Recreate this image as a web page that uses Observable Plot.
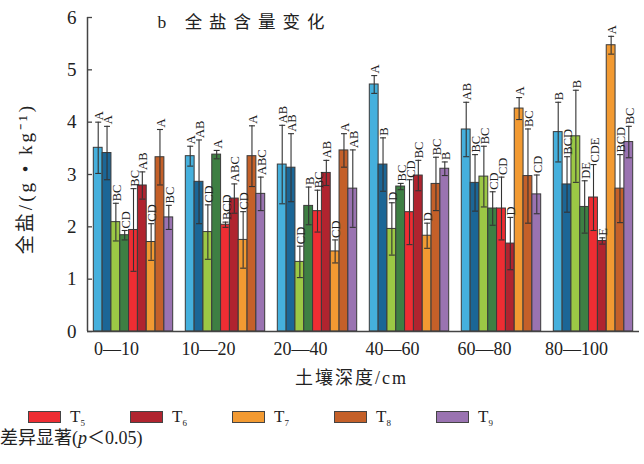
<!DOCTYPE html>
<html>
<head>
<meta charset="utf-8">
<script src="https://cdn.jsdelivr.net/npm/d3@7"></script>
<script src="https://cdn.jsdelivr.net/npm/@observablehq/plot@0.6"></script>
<style>
  html, body { margin: 0; padding: 0; background: #fff; }
  #wrap { position: relative; width: 644px; height: 464px; overflow: hidden; background: #fff;
          font-family: 'Liberation Serif', 'Noto Sans CJK SC', serif; color: #222; }
  #chart { position: absolute; left: 0; top: 0; }
  #legend { position: absolute; top: 404px; left: 28px; display: flex; white-space: nowrap; }
  .item { display: flex; align-items: center; width: 102px; height: 26px; font-size: 17px; }
  .sw { width: 31px; height: 10px; border: 1px solid #444; margin-right: 9px; }
  .item sub { font-size: 9px; vertical-align: -4px; }
  #caption { position: absolute; left: 0; top: 428px; font-size: 18px; line-height: 20px; white-space: nowrap; }
</style>
</head>
<body>
<div id="wrap">
  <div id="chart"></div>
  <div id="legend"></div>
  <div id="caption">差异显著(<i>p</i>＜0.05)</div>
</div>
<script>
// ---- data ----
const depths = ["0—10", "10—20", "20—40", "40—60", "60—80", "80—100"];
const treatments = ["T1", "T2", "T3", "T4", "T5", "T6", "T7", "T8", "T9"];
const colors = ["#45b0dd", "#1b6696", "#9cc845", "#3e7f43", "#ee2d33", "#b0242f", "#f29a32", "#c46029", "#9a73b1"];
// legend entries that are visible in the reference (T1–T4 lie outside the picture)
const legendShown = ["T5", "T6", "T7", "T8", "T9"];
const yTicks = [0, 1, 2, 3, 4, 5, 6];

const mean0_10 = [3.51, 3.41, 2.09, 1.84, 1.94, 2.79, 1.71, 3.33, 2.18];
const sd0_10 = [0.49, 0.51, 0.36, 0.09, 0.79, 0.26, 0.35, 0.53, 0.23];
const sig0_10 = ["A", "A", "BC", "CD", "BC", "AB", "CD", "A", "BC"];

const mean10_20 = [3.35, 2.86, 1.90, 3.38, 2.04, 2.54, 1.75, 3.35, 2.63];
const sd10_20 = [0.19, 0.80, 0.52, 0.08, 0.05, 0.28, 0.54, 0.58, 0.32];
const sig10_20 = ["A", "AB", "CD", "A", "BCD", "ABC", "CD", "A", "ABC"];

const mean20_40 = [3.19, 3.13, 1.33, 2.40, 2.30, 3.03, 1.53, 3.46, 2.73];
const sd20_40 = [0.75, 0.65, 0.30, 0.36, 0.40, 0.24, 0.22, 0.32, 0.74];
const sig20_40 = ["AB", "AB", "CD", "B", "BC", "AB", "CD", "A", "AB"];

const mean40_60 = [4.72, 3.19, 1.96, 2.77, 2.28, 2.98, 1.83, 2.82, 3.11];
const sd40_60 = [0.17, 0.51, 0.50, 0.06, 0.62, 0.29, 0.24, 0.51, 0.13];
const sig40_60 = ["A", "B", "D", "BC", "CD", "BC", "D", "BC", "B"];

const mean60_80 = [3.86, 2.84, 2.96, 2.35, 2.35, 1.68, 4.26, 2.97, 2.62];
const sd60_80 = [0.52, 0.54, 0.58, 0.32, 0.60, 0.50, 0.21, 0.90, 0.37];
const sig60_80 = ["AB", "BC", "BC", "CD", "CD", "D", "A", "BC", "CD"];

const mean80_100 = [3.81, 2.81, 3.73, 2.38, 2.56, 1.73, 5.47, 2.73, 3.62];
const sd80_100 = [0.57, 0.53, 0.88, 0.50, 0.63, 0.06, 0.17, 0.65, 0.30];
const sig80_100 = ["B", "BCD", "B", "DE", "CDE", "E", "A", "BCD", "BC"];

const titleText = "b 全盐含量变化";
const yTitle = "全盐/(g • kg⁻¹)";
const xTitle = "土壤深度/cm";

// ---- table built from the arrays ----
const means = [mean0_10, mean10_20, mean20_40, mean40_60, mean60_80, mean80_100];
const sds = [sd0_10, sd10_20, sd20_40, sd40_60, sd60_80, sd80_100];
const sigs = [sig0_10, sig10_20, sig20_40, sig40_60, sig60_80, sig80_100];

const groupFrac = 0.863;                 // share of each depth slot covered by bars
const bw = groupFrac / treatments.length; // bar width in slot units
const rows = [];
depths.forEach((d, g) => {
  treatments.forEach((t, i) => {
    const cx = g + (i - (treatments.length - 1) / 2) * bw;
    rows.push({
      depth: d, treatment: t,
      cx, x1: cx - bw / 2, x2: cx + bw / 2,
      mean: means[g][i], lo: means[g][i] - sds[g][i], hi: means[g][i] + sds[g][i],
      sig: sigs[g][i]
    });
  });
});

const xDomain = [-0.5, depths.length - 0.5];
const capSymbol = {
  draw(context, size) {
    const r = Math.sqrt(size / Math.PI);
    context.moveTo(-r, 0);
    context.lineTo(r, 0);
  }
};

const chart = Plot.plot({
  width: 644,
  height: 400,
  marginLeft: 87,
  marginRight: 5,
  marginTop: 17,
  marginBottom: 69,
  x: { domain: xDomain, axis: null },
  y: { domain: [0, 6], axis: null },
  color: { domain: treatments, range: colors },
  style: { fontFamily: "'Liberation Serif', 'Noto Sans CJK SC', serif", fontSize: "18px", color: "#222", background: "#fff", overflow: "visible" },
  marks: [
    Plot.rect(rows, { x1: "x1", x2: "x2", y1: 0, y2: "mean", fill: "treatment", stroke: "#3a3a3a", strokeWidth: 1 }),
    Plot.ruleX(rows, { x: "cx", y1: "lo", y2: "hi", stroke: "#333", strokeWidth: 1.1 }),
    Plot.dot(rows, { x: "cx", y: "hi", symbol: capSymbol, r: 3, stroke: "#333", strokeWidth: 1.1, fill: "none" }),
    Plot.dot(rows, { x: "cx", y: "lo", symbol: capSymbol, r: 3, stroke: "#333", strokeWidth: 1.1, fill: "none" }),
    Plot.text(rows, { x: "cx", y: "hi", text: "sig", rotate: -90, textAnchor: "start", lineAnchor: "middle", dy: -2, dx: 1, fontSize: 12.5, fill: "#222" }),
    // axes
    Plot.ruleX([xDomain[0]], { stroke: "#444", strokeWidth: 1.5 }),
    Plot.ruleY([0], { stroke: "#444", strokeWidth: 1.5 }),
    Plot.axisY({ ticks: yTicks, tickSize: 0, tickPadding: 11, fontSize: 19, tickFormat: d => String(d), label: null }),
    Plot.axisY({ ticks: yTicks, tickSize: 5, dx: 5, tickFormat: () => "", stroke: "#444", strokeWidth: 1.3, label: null }),
    Plot.axisX({ ticks: d3.range(depths.length), tickFormat: i => depths[i], tickSize: 0, tickPadding: 11, dx: -17, fontSize: 18, label: null }),
    Plot.text([xTitle], { frameAnchor: "bottom", dy: 52, dx: -12, fontSize: 18, fill: "#222" }),
    Plot.text([yTitle], { frameAnchor: "left", dx: -62, dy: 4, rotate: -90, textAnchor: "middle", lineAnchor: "middle", fontSize: 19, fill: "#222" }),
    Plot.text([titleText], { frameAnchor: "top-left", dx: 70, dy: 5, textAnchor: "start", lineAnchor: "middle", fontSize: 17.5, fill: "#222" })
  ]
});
document.getElementById("chart").appendChild(chart);

d3.select(chart).selectAll("text").each(function () {
  const t = this.textContent;
  if (t === titleText) this.setAttribute("letter-spacing", "7");
  if (t === yTitle) this.setAttribute("letter-spacing", "3");
  if (t === xTitle) this.setAttribute("letter-spacing", "2");
});

// ---- legend ----
const legend = d3.select("#legend");
legendShown.forEach(t => {
  const item = legend.append("div").attr("class", "item");
  item.append("div").attr("class", "sw").style("background", colors[treatments.indexOf(t)]);
  const lab = item.append("span");
  lab.append("span").text(t[0]);
  lab.append("sub").text(t.slice(1));
});
</script>
</body>
</html>
